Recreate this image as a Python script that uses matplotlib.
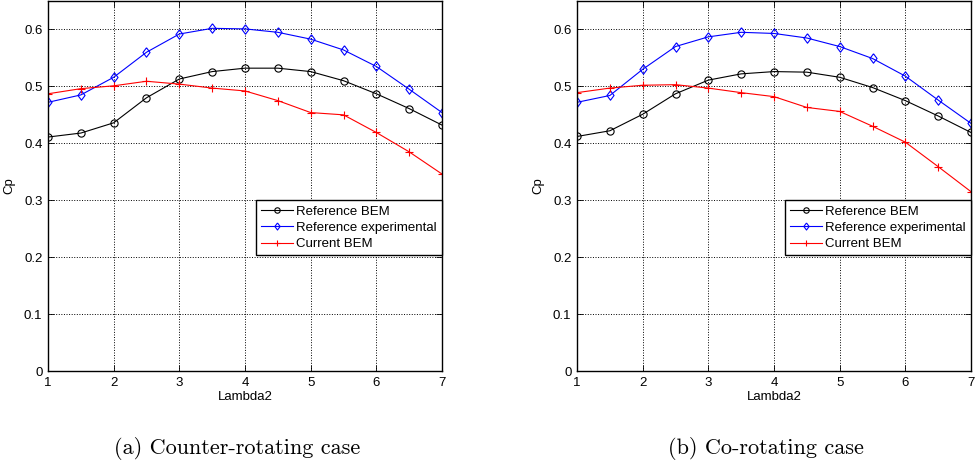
import matplotlib
matplotlib.use("Agg")
import matplotlib.pyplot as plt

# Lambda2 values (shared x axis)
lambda2 = [1, 1.5, 2, 2.5, 3, 3.5, 4, 4.5, 5, 5.5, 6, 6.5, 7]

# (a) Counter-rotating case
counter_ref_bem = [0.411, 0.418, 0.436, 0.480, 0.513, 0.526, 0.532, 0.532, 0.526, 0.510, 0.487, 0.461, 0.432]
counter_ref_exp = [0.472, 0.485, 0.516, 0.560, 0.592, 0.602, 0.601, 0.595, 0.583, 0.564, 0.535, 0.495, 0.454]
counter_cur_bem = [0.487, 0.496, 0.501, 0.509, 0.504, 0.497, 0.492, 0.475, 0.454, 0.450, 0.419, 0.385, 0.346]

# (b) Co-rotating case
co_ref_bem = [0.412, 0.422, 0.451, 0.487, 0.511, 0.522, 0.526, 0.525, 0.516, 0.498, 0.475, 0.448, 0.419]
co_ref_exp = [0.472, 0.484, 0.530, 0.570, 0.587, 0.595, 0.593, 0.585, 0.570, 0.549, 0.518, 0.476, 0.435]
co_cur_bem = [0.489, 0.497, 0.502, 0.503, 0.497, 0.489, 0.482, 0.463, 0.456, 0.430, 0.402, 0.359, 0.315]

captions = ["(a) Counter-rotating case", "(b) Co-rotating case"]
series_names = ["Reference BEM", "Reference experimental", "Current BEM"]

plt.rcParams['font.family'] = ['Liberation Sans', 'DejaVu Sans']

fig = plt.figure(figsize=(9.76, 4.65), dpi=100)

W, H = 976.0, 465.0
lefts = [48, 577]
ax_w = 394
ax_top, ax_bot = 1, 371

panels = [
    (counter_ref_bem, counter_ref_exp, counter_cur_bem),
    (co_ref_bem, co_ref_exp, co_cur_bem),
]

# MATLAB-style diamond, a bit taller than wide
diamond = [(0, 1), (0.75, 0), (0, -1), (-0.75, 0), (0, 1)]


def draw_panel(ax, ref_bem, ref_exp, cur_bem):
    ax.plot(lambda2, ref_bem, color='black', marker='o', mfc='none', mec='black',
            ms=5.2, lw=0.8, mew=0.8, label=series_names[0])
    ax.plot(lambda2, ref_exp, color='blue', marker=diamond, mfc='none', mec='blue',
            ms=6.8, lw=0.8, mew=0.8, label=series_names[1])
    ax.plot(lambda2, cur_bem, color='red', marker='+', ms=6, lw=0.8, mew=0.8,
            label=series_names[2])
    ax.set_xlim(1, 7)
    ax.set_ylim(0, 0.65)
    ax.set_xticks([1, 2, 3, 4, 5, 6, 7])
    ax.set_yticks([0, 0.1, 0.2, 0.3, 0.4, 0.5, 0.6])
    ax.set_yticklabels(['0', '0.1', '0.2', '0.3', '0.4', '0.5', '0.6'])
    ax.grid(True, color='black', linestyle=':', linewidth=0.7)
    ax.tick_params(direction='in', top=True, right=True, labelsize=9.5, length=4, width=0.6, pad=4)
    for sp in ax.spines.values():
        sp.set_linewidth(1.0)
    ax.set_xlabel("Lambda2", fontsize=9.5, labelpad=2)
    ax.set_ylabel("Cp", fontsize=9.5, labelpad=6)
    leg = ax.legend(loc='upper right', bbox_to_anchor=(1.0, 0.3 / 0.65),
                    borderaxespad=0.0, fancybox=False, edgecolor='black',
                    fontsize=9.5, handlelength=2.4, handletextpad=0.25,
                    labelspacing=0.3, borderpad=0.4, framealpha=1,
                    markerscale=0.75)
    leg.get_frame().set_linewidth(1.0)


for i, (l, data) in enumerate(zip(lefts, panels)):
    ax = fig.add_axes([l / W, 1 - ax_bot / H, ax_w / W, (ax_bot - ax_top) / H])
    draw_panel(ax, *data)
    cx = (l + ax_w / 2 - 8) / W
    fig.text(cx, 1 - 448 / H, captions[i], ha='center', va='center',
             fontsize=16, family=['cmr10', 'DejaVu Serif'])

fig.savefig("out.png", dpi=100)
